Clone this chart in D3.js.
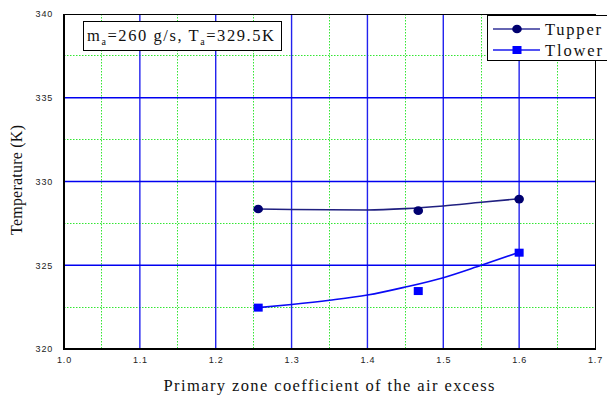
<!DOCTYPE html>
<html>
<head>
<meta charset="utf-8">
<script src="https://cdn.jsdelivr.net/npm/d3@7"></script>
<style>
  html, body { margin: 0; padding: 0; background: #fff; }
  svg { display: block; }
</style>
</head>
<body>
<svg id="chart" width="607" height="397"></svg>
<script>
// Measured points
const excessCoef = [1.256, 1.467, 1.600];
const tUpper = [328.36, 328.26, 328.95];
const tLower = [322.47, 323.46, 325.75];

// Smooth trend lines drawn through the measurements
const trendX = [1.256, 1.30, 1.35, 1.40, 1.45, 1.50, 1.55, 1.60];
const trendUpper = [328.36, 328.33, 328.31, 328.30, 328.38, 328.54, 328.76, 328.97];
const trendLower = [322.47, 322.66, 322.91, 323.22, 323.70, 324.26, 325.00, 325.77];

// Axis ticks
const xTicks = [1.0, 1.1, 1.2, 1.3, 1.4, 1.5, 1.6, 1.7];
const xMinor = [1.05, 1.15, 1.25, 1.35, 1.45, 1.55, 1.65];
const yTicks = [320, 325, 330, 335, 340];
const yMinor = [322.5, 327.5, 332.5, 337.5];

const seriesNames = ["Tupper", "Tlower"];

const svg = d3.select("#chart");
const m = { left: 64, top: 14, right: 595, bottom: 349 };

const x = d3.scaleLinear().domain([1.0, 1.7]).range([m.left, m.right]);
const y = d3.scaleLinear().domain([320, 340]).range([m.bottom, m.top]);
// snap a coordinate to the pixel centre for crisp one-pixel lines
const px = v => Math.round(v - 0.5) + 0.5;

const grid = svg.append("g");

// minor dotted green grid
grid.selectAll(".xmin").data(xMinor).join("line")
  .attr("x1", d => px(x(d))).attr("x2", d => px(x(d)))
  .attr("y1", m.top).attr("y2", m.bottom)
  .attr("stroke", "#33e633").attr("stroke-width", 1).attr("stroke-dasharray", "1.5,1.5");
grid.selectAll(".ymin").data(yMinor).join("line")
  .attr("x1", m.left).attr("x2", m.right)
  .attr("y1", d => px(y(d))).attr("y2", d => px(y(d)))
  .attr("stroke", "#33e633").attr("stroke-width", 1).attr("stroke-dasharray", "1.5,1.5");

// major blue grid
grid.selectAll(".xmaj").data(xTicks.slice(1, -1)).join("line")
  .attr("x1", d => x(d)).attr("x2", d => x(d))
  .attr("y1", m.top).attr("y2", m.bottom)
  .attr("stroke", "#2222ee").attr("stroke-width", 1.4);
grid.selectAll(".ymaj").data(yTicks.slice(1, -1)).join("line")
  .attr("x1", m.left).attr("x2", m.right)
  .attr("y1", d => y(d)).attr("y2", d => y(d))
  .attr("stroke", "#0000f0").attr("stroke-width", 1.3);

// plot frame
svg.append("rect")
  .attr("x", m.left + 0.5).attr("y", m.top + 0.5)
  .attr("width", m.right - m.left).attr("height", m.bottom - m.top)
  .attr("fill", "none").attr("stroke", "#000").attr("stroke-width", 1);
svg.append("line").attr("x1", m.left).attr("x2", m.left)
  .attr("y1", m.top).attr("y2", m.bottom + 1)
  .attr("stroke", "#000").attr("stroke-width", 2);
svg.append("line").attr("x1", m.left - 1).attr("x2", m.right + 1)
  .attr("y1", m.bottom).attr("y2", m.bottom)
  .attr("stroke", "#000").attr("stroke-width", 2);

// axes built with d3 axis generators, domain and tick marks hidden
const xAxis = svg.append("g").attr("transform", `translate(0,${m.bottom})`)
  .call(d3.axisBottom(x).tickValues(xTicks).tickFormat(d3.format(".1f")).tickSize(0).tickPadding(8));
const yAxis = svg.append("g").attr("transform", `translate(${m.left},0)`)
  .call(d3.axisLeft(y).tickValues(yTicks).tickFormat(d3.format("d")).tickSize(0).tickPadding(11));
[xAxis, yAxis].forEach(a => {
  a.select(".domain").remove();
  a.selectAll("text")
    .attr("font-family", "Liberation Sans, Arial, sans-serif")
    .attr("font-size", 9).attr("fill", "#222")
    .attr("letter-spacing", "0.8px");
});

// axis titles
svg.append("text")
  .attr("x", 329).attr("y", 391)
  .attr("text-anchor", "middle")
  .attr("font-family", "Liberation Serif, Times New Roman, serif")
  .attr("font-size", 16.5).attr("fill", "#111")
  .attr("textLength", 331).attr("lengthAdjust", "spacing")
  .text("Primary zone coefficient of the air excess");
svg.append("text")
  .attr("transform", "translate(22,180) rotate(-90)")
  .attr("text-anchor", "middle")
  .attr("font-family", "Liberation Serif, Times New Roman, serif")
  .attr("font-size", 16).attr("fill", "#111")
  .attr("textLength", 110).attr("lengthAdjust", "spacing")
  .text("Temperature (K)");

// trend curves
const line = d3.line().curve(d3.curveMonotoneX);
const upperPts = trendX.map((d, i) => [x(d), y(trendUpper[i])]);
const lowerPts = trendX.map((d, i) => [x(d), y(trendLower[i])]);
svg.append("path").attr("d", line(upperPts))
  .attr("fill", "none").attr("stroke", "#202080").attr("stroke-width", 1.6);
svg.append("path").attr("d", line(lowerPts))
  .attr("fill", "none").attr("stroke", "#0a0af5").attr("stroke-width", 1.6);

// markers
svg.selectAll(".up").data(excessCoef).join("ellipse")
  .attr("cx", d => x(d)).attr("cy", (d, i) => y(tUpper[i]))
  .attr("rx", 4.8).attr("ry", 4.3)
  .attr("fill", "#000070");
svg.selectAll(".lo").data(excessCoef).join("rect")
  .attr("x", d => x(d) - 4.5).attr("y", (d, i) => y(tLower[i]) - 4)
  .attr("width", 9).attr("height", 8)
  .attr("fill", "#0000ff");

// annotation box
const note = svg.append("g");
note.append("rect")
  .attr("x", 83.5).attr("y", 21.5).attr("width", 198).attr("height", 29)
  .attr("fill", "#fff").attr("stroke", "#000").attr("stroke-width", 1);
const nt = note.append("text")
  .attr("x", 87).attr("y", 41)
  .attr("font-family", "Liberation Serif, Times New Roman, serif")
  .attr("font-size", 16.5).attr("fill", "#111")
  .attr("textLength", 187).attr("lengthAdjust", "spacing");
nt.append("tspan").text("m");
nt.append("tspan").attr("font-size", 10).attr("dy", 4).text("a");
nt.append("tspan").attr("dy", -4).text("=260 g/s, T");
nt.append("tspan").attr("font-size", 10).attr("dy", 4).text("a");
nt.append("tspan").attr("dy", -4).text("=329.5K");

// legend
const lg = svg.append("g");
lg.append("rect")
  .attr("x", 487.5).attr("y", 15.5).attr("width", 125).attr("height", 45)
  .attr("fill", "#fff").attr("stroke", "#000").attr("stroke-width", 1);
const legendColors = ["#333399", "#1a1aee"];
const legendMarkerFill = ["#000070", "#0000ff"];
const legendTextLen = [56, 57];
seriesNames.forEach((name, i) => {
  const ly = 29 + i * 21;
  lg.append("line").attr("x1", 493).attr("x2", 540).attr("y1", ly).attr("y2", ly)
    .attr("stroke", legendColors[i]).attr("stroke-width", 1.6);
  if (i === 0) {
    lg.append("ellipse").attr("cx", 517).attr("cy", ly).attr("rx", 4.8).attr("ry", 4.3)
      .attr("fill", legendMarkerFill[i]);
  } else {
    lg.append("rect").attr("x", 512.5).attr("y", ly - 4).attr("width", 9).attr("height", 8)
      .attr("fill", legendMarkerFill[i]);
  }
  lg.append("text").attr("x", 545).attr("y", ly + 5.5)
    .attr("font-family", "Liberation Serif, Times New Roman, serif")
    .attr("font-size", 16.5).attr("fill", "#111")
    .attr("textLength", legendTextLen[i]).attr("lengthAdjust", "spacing")
    .text(name);
});
</script>
</body>
</html>
